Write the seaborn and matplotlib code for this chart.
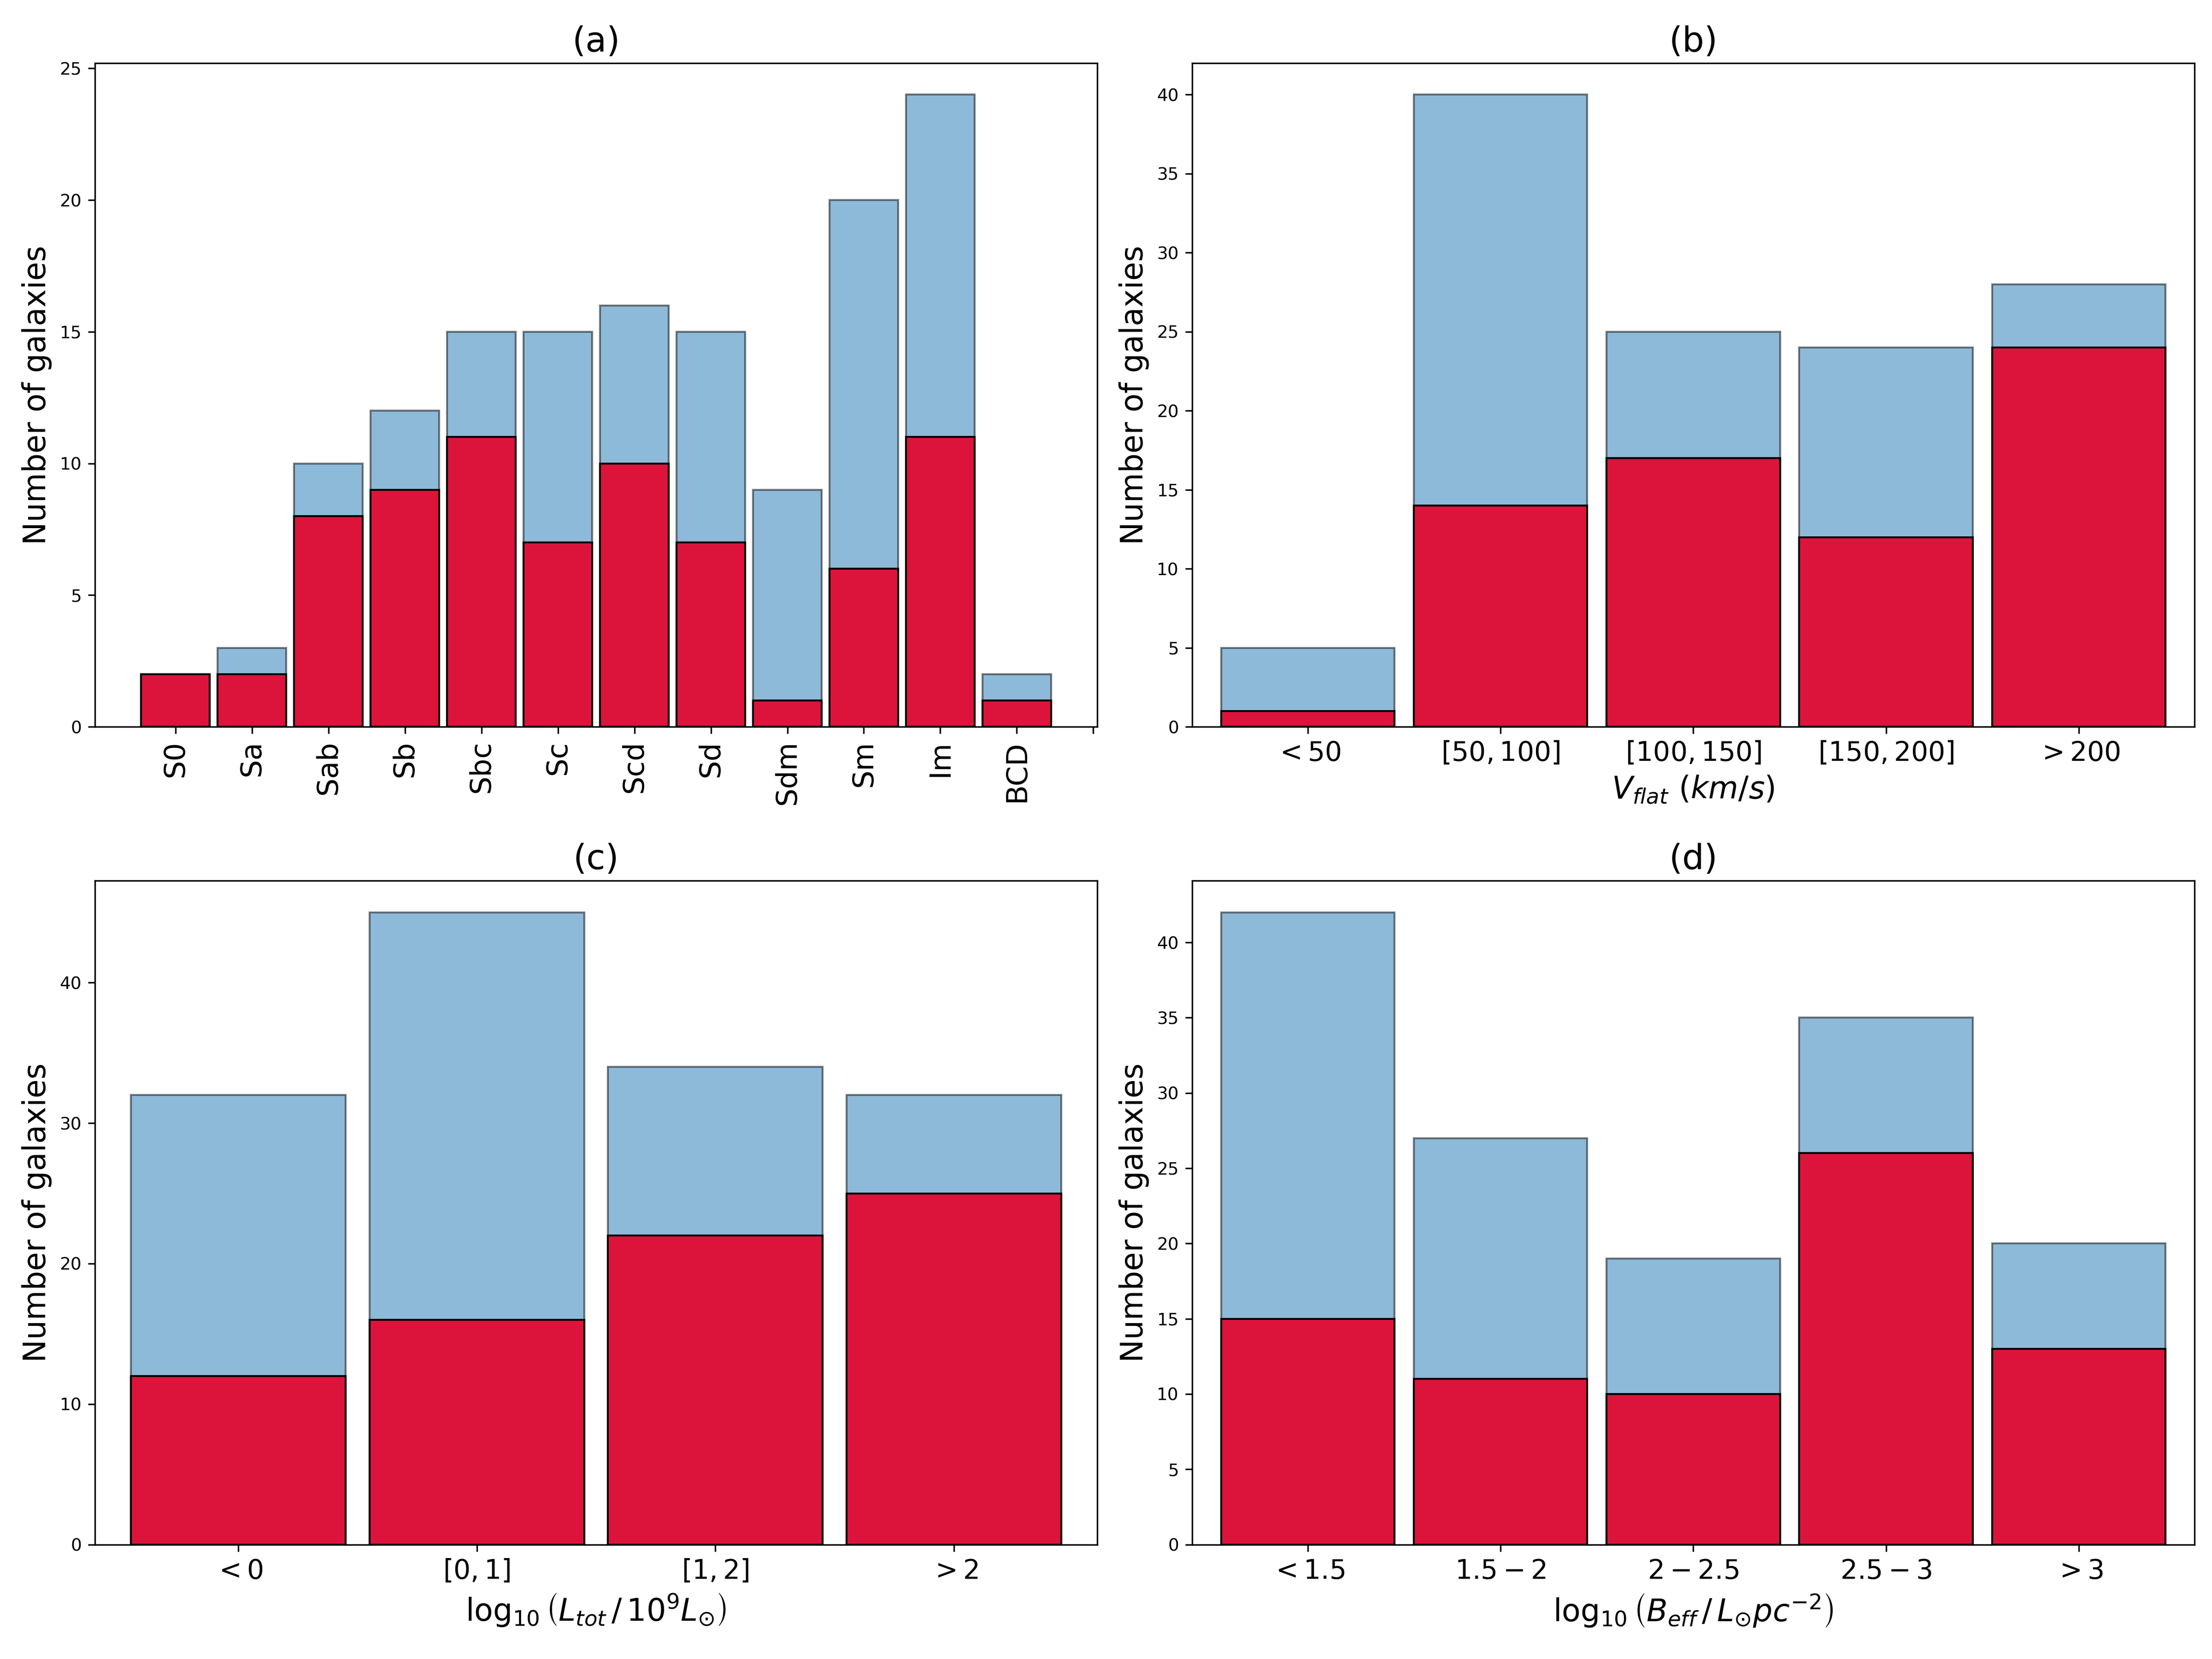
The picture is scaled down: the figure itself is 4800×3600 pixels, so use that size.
import matplotlib
matplotlib.use("Agg")
import matplotlib.pyplot as plt
import seaborn as sns
import numpy as np

# Panel (a)
types_a = ["S0", "Sa", "Sab", "Sb", "Sbc", "Sc", "Scd", "Sd", "Sdm", "Sm", "Im", "BCD"]
total_a = [2, 3, 10, 12, 15, 15, 16, 15, 9, 20, 24, 2]
sub_a = [2, 2, 8, 9, 11, 7, 10, 7, 1, 6, 11, 1]

# Panel (b)
labels_b = [r"$<50$", r"$[50,100]$", r"$[100,150]$", r"$[150,200]$", r"$>200$"]
total_b = [5, 40, 25, 24, 28]
sub_b = [1, 14, 17, 12, 24]

# Panel (c)
labels_c = [r"$<0$", r"$[0,1]$", r"$[1,2]$", r"$>2$"]
total_c = [32, 45, 34, 32]
sub_c = [12, 16, 22, 25]

# Panel (d)
labels_d = [r"$<1.5$", r"$1.5-2$", r"$2-2.5$", r"$2.5-3$", r"$>3$"]
total_d = [42, 27, 19, 35, 20]
sub_d = [15, 11, 10, 26, 13]

BLUE = "#1f77b4"
RED = "crimson"

fig, axes = plt.subplots(2, 2, figsize=(16, 12), dpi=300)
fig.subplots_adjust(left=0.043, right=0.992, top=0.962, bottom=0.069,
                    wspace=0.095, hspace=0.232)


def draw(ax, labels, total, sub):
    sns.barplot(x=list(range(len(labels))), y=total, color=BLUE, alpha=0.5,
                saturation=1, edgecolor="black", linewidth=1.0, width=0.9,
                ax=ax, native_scale=True)
    sns.barplot(x=list(range(len(labels))), y=sub, color=RED,
                saturation=1, edgecolor="black", linewidth=1.0, width=0.9,
                ax=ax, native_scale=True)
    ax.set_ylabel("Number of galaxies", fontsize=16)
    ax.tick_params(axis="y", labelsize=9)
    ax.set_ylim(0, max(total) * 1.05)


# (a)
ax = axes[0, 0]
draw(ax, types_a, total_a, sub_a)
ax.set_xticks(range(len(types_a) + 1))
ax.set_xticklabels(types_a + [""], rotation=90, fontsize=15)
ax.set_xlim(-1.05, 12.05)
ax.set_title("(a)", fontsize=18)
ax.set_xlabel("")

# (b)
ax = axes[0, 1]
draw(ax, labels_b, total_b, sub_b)
ax.set_xticks(range(len(labels_b)))
ax.set_xticklabels(labels_b, fontsize=14)
ax.set_xlim(-0.6, len(labels_b) - 0.4)
ax.set_xlabel(r"$V_{flat}\ (km/s)$", fontsize=16)
ax.set_title("(b)", fontsize=18)

# (c)
ax = axes[1, 0]
draw(ax, labels_c, total_c, sub_c)
ax.set_xticks(range(len(labels_c)))
ax.set_xticklabels(labels_c, fontsize=14)
ax.set_xlim(-0.6, len(labels_c) - 0.4)
ax.set_xlabel(r"$\log_{10}\left(L_{tot}\,/\,10^9L_{\odot}\right)$", fontsize=16)
ax.set_title("(c)", fontsize=18)

# (d)
ax = axes[1, 1]
draw(ax, labels_d, total_d, sub_d)
ax.set_xticks(range(len(labels_d)))
ax.set_xticklabels(labels_d, fontsize=14)
ax.set_xlim(-0.6, len(labels_d) - 0.4)
ax.set_xlabel(r"$\log_{10}\left(B_{eff}\,/\,L_{\odot}pc^{-2}\right)$", fontsize=16)
ax.set_title("(d)", fontsize=18)

fig.savefig("out.png", dpi=300)
